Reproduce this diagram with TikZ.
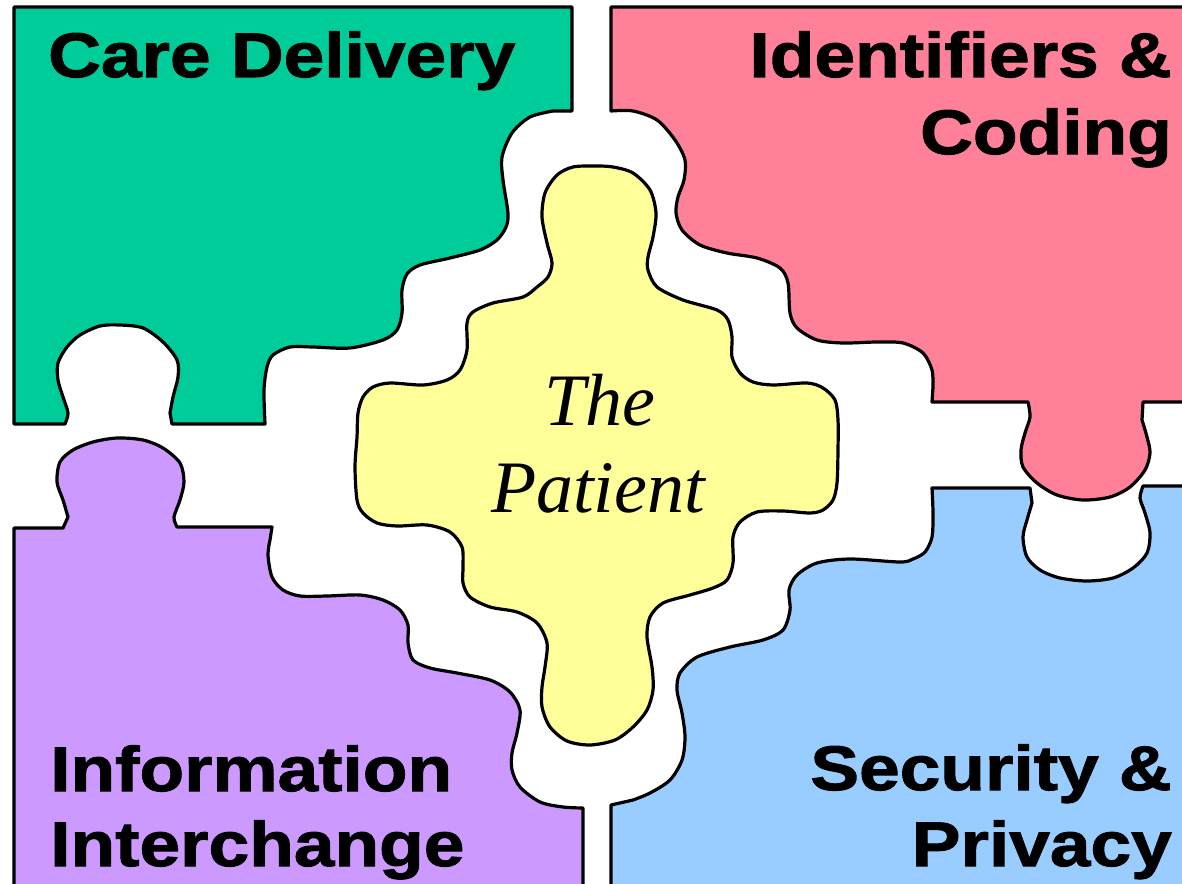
\documentclass[tikz,border=0pt]{standalone}
\usepackage{fontspec}
\setmainfont{Liberation Serif}
\newfontfamily\headfont[FakeStretch=1.16, FakeBold=1.6]{Liberation Sans}
\definecolor{careGreen}{HTML}{00CC99}
\definecolor{codePink}{HTML}{FF8099}
\definecolor{patientYellow}{HTML}{FFFF99}
\definecolor{infoPurple}{HTML}{CC99FF}
\definecolor{securityBlue}{HTML}{99CCFF}

\begin{document}
\begin{tikzpicture}[x=1pt, y=-1pt,
  piece/.style={draw=black, line width=3.2pt, line join=round},
  head/.style={font=\headfont\bfseries\fontsize{63}{70}\selectfont, inner sep=0pt},
  patient/.style={font=\itshape\fontsize{74}{80}\selectfont, inner sep=0pt}]
\useasboundingbox (0,0) rectangle (1182,883);
\clip (0,0) rectangle (1182,883);

% Pieces
\draw[piece, fill=careGreen] (14,7) -- (572,7) -- (572,111)
  -- plot[smooth] coordinates {(553,111) (530,117) (512,133) (502,157) (503,180) (508,213) (506,227) (497,240) (480,250) (450,258) (420,265) (407,274) (402,290) (402,313) (397,330) (383,340) (350,348) (313,347) (290,347) (273,355) (267,367) (264,390) (265,424)}
  -- (172,424)
  -- plot[smooth] coordinates {(170,413) (173,397) (178,377) (177,360) (163,342) (143,328) (120,325) (100,326) (80,335) (67,347) (58,363) (58,380) (63,397) (68,413) (65,424)}
  -- (14,424) -- cycle;

\draw[piece, fill=codePink] (611,7) -- (1200,7) -- (1200,402) -- (1143,402)
  -- plot[smooth] coordinates {(1142,420) (1147,437) (1150,453) (1145,470) (1130,487) (1110,497) (1083,500) (1057,495) (1037,483) (1023,467) (1021,450) (1025,433) (1030,417) (1028,402)}
  -- (932,402)
  -- plot[smooth] coordinates {(933,387) (932,370) (923,353) (903,343) (877,342) (843,343) (817,340) (797,328) (790,313) (788,283) (780,268) (757,258) (727,253) (700,245) (682,230) (676,213) (678,197) (684,180) (685,160) (675,140) (657,120) (633,111) (611,111)}
  -- cycle;

\draw[piece, fill=patientYellow] plot[smooth cycle] coordinates {(573,167) (595,166) (613,167) (633,173) (650,190) (656,213) (653,237) (648,257) (648,270) (657,287) (683,300) (717,310) (728,320) (732,337) (732,357) (740,373) (753,382) (773,385) (807,383) (823,388) (835,400) (838,420) (838,450) (837,483) (833,500) (823,510) (810,513) (783,511) (757,512) (740,522) (733,537) (733,563) (727,580) (713,588) (690,595) (663,603) (650,617) (647,637) (652,667) (653,690) (647,710) (633,727) (615,740) (590,745) (567,741) (550,727) (542,707) (542,687) (545,667) (547,643) (537,623) (517,612) (490,607) (470,597) (463,583) (463,567) (462,547) (450,532) (427,525) (397,526) (377,523) (363,513) (357,500) (355,467) (357,437) (358,413) (363,397) (373,387) (390,383) (423,385) (447,380) (460,370) (467,350) (467,323) (473,312) (493,303) (523,297) (537,287) (548,277) (552,263) (547,243) (542,217) (545,193) (557,175)};

\draw[piece, fill=infoPurple] (14,900) -- (14,528) -- (63,528)
  -- plot[smooth] coordinates {(68,517) (63,500) (57,482) (60,462) (73,450) (93,442) (117,438) (143,440) (163,448) (180,463) (184,482) (180,500) (174,517) (177,527)}
  -- (272,527)
  -- plot[smooth] coordinates {(270,540) (268,555) (272,577) (283,590) (300,596) (327,596) (360,595) (383,600) (400,610) (408,625) (408,643) (413,660) (430,668) (457,673) (490,680) (510,692) (520,710) (517,733) (512,753) (512,770) (520,787) (540,802) (563,807) (583,808)}
  -- (583,900) -- cycle;

\draw[piece, fill=securityBlue] (611,900) -- (611,805)
  -- plot[smooth] coordinates {(633,800) (650,793) (670,780) (682,760) (685,737) (682,713) (677,690) (680,673) (697,657) (730,647) (763,640) (783,630) (790,610) (789,590) (797,575) (817,563) (850,559) (900,562) (913,559) (925,552) (932,537) (933,513) (932,488)}
  -- (1030,488)
  -- plot[smooth] coordinates {(1032,503) (1027,520) (1023,537) (1027,557) (1040,570) (1060,578) (1087,581) (1113,578) (1133,568) (1147,553) (1150,533) (1145,513) (1140,498) (1143,486)}
  -- (1200,486) -- (1200,900) -- cycle;

% Labels
\node[head, anchor=base west] (careLbl) at (48,77) {Care Delivery};
\node[head, anchor=base east] (identLbl) at (1172,77) {Identifiers \&};
\node[head, anchor=base east] (codingLbl) at (1172,154) {Coding};
\node[head, anchor=base west] (infoLbl) at (50,791) {Information};
\node[head, anchor=base west] (interLbl) at (50,866) {Interchange};
\node[head, anchor=base east] (secLbl) at (1172,790) {Security \&};
\node[head, anchor=base east] (privLbl) at (1172,866) {Privacy};
\node[patient, anchor=base] (theLbl) at (600,425) {The};
\node[patient, anchor=base] (patLbl) at (598,512) {Patient};
\end{tikzpicture}
\end{document}
